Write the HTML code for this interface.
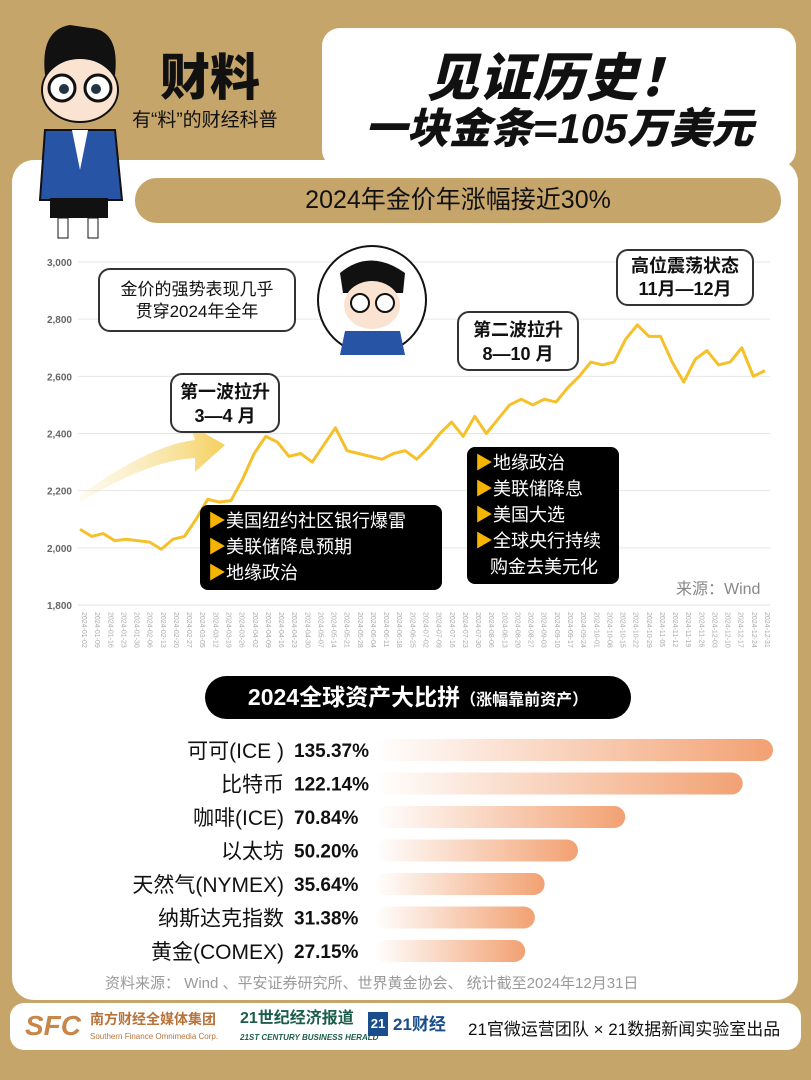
<!DOCTYPE html>
<html><head><meta charset="utf-8">
<style>
*{margin:0;padding:0;box-sizing:border-box}
body{width:811px;height:1080px;background:#c6a56a;position:relative;overflow:hidden;font-family:"Liberation Sans","Noto Sans CJK SC",sans-serif;color:#111}
.abs{position:absolute}
.card{left:12px;top:160px;width:786px;height:840px;background:#fff;border-radius:22px}
.titlebox{left:322px;top:28px;width:474px;height:140px;background:#fff;border-radius:18px}
.t1{left:322px;width:474px;top:36px;text-align:center;font-size:52px;font-weight:900;font-style:italic;letter-spacing:1px}
.t2{left:322px;width:474px;top:95px;text-align:center;font-size:42px;font-weight:900;font-style:italic}
.pill{left:135px;top:178px;width:646px;height:45px;background:#c6a56a;border-radius:22px;text-align:center;font-size:25px;line-height:45px}
.bubble{background:#fff;border:2px solid #333;border-radius:12px;text-align:center}
.blk{background:#000;color:#fff;border-radius:8px;font-size:18px;line-height:26px;padding:3px 8px}
.blk span{color:#f5b400}
</style></head><body>
<div class="abs card"></div>
<div class="abs titlebox"></div>
<div class="abs t1">见证历史！</div>
<div class="abs t2">一块金条=105万美元</div>
<div class="abs" style="left:160px;top:38px;font-size:50px;font-weight:900">财料</div>
<div class="abs" style="left:132px;top:105px;font-size:19px">有“料”的财经科普</div>
<svg class="abs" style="left:20px;top:20px" width="120" height="230">
<path d="M50 5 Q20 10 25 55 L95 55 Q100 10 70 8 Z" fill="#111"/>
<ellipse cx="60" cy="70" rx="38" ry="32" fill="#fbe3d2" stroke="#111" stroke-width="2"/>
<circle cx="42" cy="68" r="13" fill="#fff" stroke="#111" stroke-width="3"/><circle cx="78" cy="68" r="13" fill="#fff" stroke="#111" stroke-width="3"/>
<circle cx="44" cy="69" r="5" fill="#234"/><circle cx="76" cy="69" r="5" fill="#234"/>
<path d="M25 110 L95 110 L102 180 L20 180 Z" fill="#2854a6" stroke="#111" stroke-width="2"/>
<path d="M52 110 L68 110 L60 150Z" fill="#fff"/>
<rect x="30" y="178" width="58" height="20" fill="#111"/>
<rect x="38" y="198" width="10" height="20" fill="#fff" stroke="#111"/><rect x="68" y="198" width="10" height="20" fill="#fff" stroke="#111"/>
</svg>
<div class="abs pill">2024年金价年涨幅接近30%</div>

<svg class="abs" style="left:0;top:240px" width="811" height="420" id="chart">
<defs><linearGradient id="ag" x1="0" x2="1"><stop offset="0" stop-color="#f8e7b0" stop-opacity="0.2"/><stop offset="1" stop-color="#f5cf5c"/></linearGradient>
<linearGradient id="bg" x1="0" x2="1"><stop offset="0" stop-color="#fff" /><stop offset="1" stop-color="#f2a172"/></linearGradient></defs>
<g id="grid"></g>
<path d="M80 255 Q150 205 195 200 L190 185 L225 205 L195 232 L195 218 Q150 220 80 262Z" fill="url(#ag)"/>
<g id="marks"></g>
<g id="xt"></g>
</svg>

<div class="abs bubble" style="left:98px;top:268px;width:198px;height:64px;font-size:17px;line-height:22px;padding-top:9px">金价的强势表现几乎<br>贯穿2024年全年</div>
<svg class="abs" style="left:315px;top:243px" width="115" height="115">
<circle cx="57" cy="57" r="54" fill="#fff" stroke="#111" stroke-width="2"/>
<path d="M25 30 Q55 5 90 30 L88 50 L28 50Z" fill="#111"/>
<ellipse cx="57" cy="62" rx="28" ry="24" fill="#fbe3d2"/>
<circle cx="45" cy="60" r="9" fill="#fff" stroke="#111" stroke-width="2"/><circle cx="70" cy="60" r="9" fill="#fff" stroke="#111" stroke-width="2"/>
<path d="M25 112 L30 88 L85 88 L90 112Z" fill="#2854a6"/>
</svg>
<div class="abs bubble" style="left:170px;top:373px;width:110px;height:60px;font-size:18px;font-weight:bold;line-height:24px;padding-top:5px">第一波拉升<br>3—4 月</div>
<div class="abs bubble" style="left:457px;top:311px;width:122px;height:60px;font-size:18px;font-weight:bold;line-height:24px;padding-top:5px">第二波拉升<br>8—10 月</div>
<div class="abs bubble" style="left:616px;top:249px;width:138px;height:57px;font-size:18px;font-weight:bold;line-height:23px;padding-top:4px">高位震荡状态<br>11月—12月</div>
<div class="abs blk" style="left:200px;top:505px;width:242px;height:85px"><span>▶</span>美国纽约社区银行爆雷<br><span>▶</span>美联储降息预期<br><span>▶</span>地缘政治</div>
<div class="abs blk" style="left:467px;top:447px;width:152px;height:137px"><span>▶</span>地缘政治<br><span>▶</span>美联储降息<br><span>▶</span>美国大选<br><span>▶</span>全球央行持续<br>&nbsp;&nbsp;&nbsp;购金去美元化</div>
<div class="abs" style="left:676px;top:575px;font-size:16px;color:#888">来源：Wind</div>

<div class="abs" style="left:205px;top:676px;width:426px;height:43px;background:#000;color:#fff;border-radius:22px;text-align:center;line-height:43px;font-size:23px;font-weight:bold">2024全球资产大比拼<span style="font-size:16px">（涨幅靠前资产）</span></div>
<svg class="abs" style="left:0;top:730px" width="811" height="240" id="bars"></svg>
<div class="abs" style="left:105px;top:972px;font-size:15px;color:#999">资料来源： Wind 、平安证券研究所、世界黄金协会、 统计截至2024年12月31日</div>

<div class="abs" style="left:10px;top:1003px;width:791px;height:47px;background:#fff;border-radius:14px"></div>
<div class="abs" style="left:25px;top:1010px;font-size:28px;font-weight:900;color:#c8874a;font-style:italic">SFC</div>
<div class="abs" style="left:90px;top:1012px;font-size:14px;font-weight:bold;color:#b8733a;line-height:15px">南方财经全媒体集团<br><span style="font-size:8px;font-weight:normal">Southern Finance Omnimedia Corp.</span></div>
<div class="abs" style="left:240px;top:1010px;font-size:16px;font-weight:bold;color:#1c5e4a;line-height:17px">21世纪经济报道<br><span style="font-size:8px;font-style:italic">21ST CENTURY BUSINESS HERALD</span></div>
<div class="abs" style="left:368px;top:1012px;width:20px;height:24px;background:#1a4d8c;color:#fff;font-size:13px;font-weight:bold;text-align:center;line-height:24px">21</div>
<div class="abs" style="left:393px;top:1010px;font-size:17px;font-weight:bold;color:#1a4d8c">21财经</div>
<div class="abs" style="left:468px;top:1015px;font-size:17px">21官微运营团队 × 21数据新闻实验室出品</div>

<script>
const yTicks=[1800,2000,2200,2400,2600,2800,3000];
const goldPrices=[2065,2040,2050,2025,2030,2025,2020,1995,2030,2040,2100,2170,2160,2165,2240,2330,2390,2370,2320,2330,2300,2360,2420,2340,2330,2320,2310,2330,2340,2310,2350,2400,2440,2390,2460,2400,2450,2500,2520,2500,2520,2510,2560,2600,2650,2640,2650,2730,2780,2740,2740,2650,2580,2660,2690,2640,2650,2700,2600,2620];
const xLabels=["2024-01-02","2024-01-09","2024-01-16","2024-01-23","2024-01-30","2024-02-06","2024-02-13","2024-02-20","2024-02-27","2024-03-05","2024-03-12","2024-03-19","2024-03-26","2024-04-02","2024-04-09","2024-04-16","2024-04-23","2024-04-30","2024-05-07","2024-05-14","2024-05-21","2024-05-28","2024-06-04","2024-06-11","2024-06-18","2024-06-25","2024-07-02","2024-07-09","2024-07-16","2024-07-23","2024-07-30","2024-08-06","2024-08-13","2024-08-20","2024-08-27","2024-09-03","2024-09-10","2024-09-17","2024-09-24","2024-10-01","2024-10-08","2024-10-15","2024-10-22","2024-10-29","2024-11-05","2024-11-12","2024-11-19","2024-11-26","2024-12-03","2024-12-10","2024-12-17","2024-12-24","2024-12-31"];
const assetNames=["可可(ICE )","比特币","咖啡(ICE)","以太坊","天然气(NYMEX)","纳斯达克指数","黄金(COMEX)"];
const assetGains=[135.37,122.14,70.84,50.20,35.64,31.38,27.15];
const valueLabels=["135.37%","122.14%","70.84%","50.20%","35.64%","31.38%","27.15%"];

const NS="http://www.w3.org/2000/svg";
function mk(tag,attrs,parent){const e=document.createElementNS(NS,tag);for(const k in attrs)e.setAttribute(k,attrs[k]);parent.appendChild(e);return e;}
const y=v=>365-(v-1800)/1200*343;
const x=i=>80+i*(765-80)/(goldPrices.length-1);
const grid=document.getElementById('grid');
yTicks.forEach(t=>{
  const l=mk('line',{x1:78,x2:770,y1:y(t),y2:y(t),stroke:'#e6e6e6','stroke-width':1},grid);
  
  
  const tx=mk('text',{x:72,y:y(t)+4,'text-anchor':'end','font-size':10,fill:'#666','font-weight':'bold'},grid);
  tx.textContent=t.toLocaleString('en-US');
  
  
});
const p=mk('polyline',{points:goldPrices.map((v,i)=>x(i)+','+y(v)).join(' '),fill:'none',stroke:'#f5c02a','stroke-width':3,'stroke-linejoin':'round'},document.getElementById('marks'));


const xt=document.getElementById('xt');
xLabels.forEach((s,i)=>{
  const xx=82+i*(765-82)/(xLabels.length-1);
  const t=mk('text',{x:xx,y:372,'font-size':7,fill:'#aaa',transform:`rotate(90 ${xx} 372)`},xt);
  t.textContent=s;
  
  
});
const bars=document.getElementById('bars');
const bx=v=>463+v*2.29;
assetNames.forEach((n,i)=>{
  const cy=20+i*33.5;
  const r=mk('rect',{x:375,y:cy-11,width:bx(assetGains[i])-375,height:22,rx:11,fill:'url(#bg)'},bars);
  
  
  const l=mk('text',{x:284,y:cy+8,'text-anchor':'end','font-size':21,fill:'#111'},bars);
  l.textContent=n;
  
  
  const v=mk('text',{x:294,y:cy+7,'font-size':19,'font-weight':'bold',fill:'#111'},bars);
  v.textContent=valueLabels[i];
  
  
});
</script>
</body></html>
